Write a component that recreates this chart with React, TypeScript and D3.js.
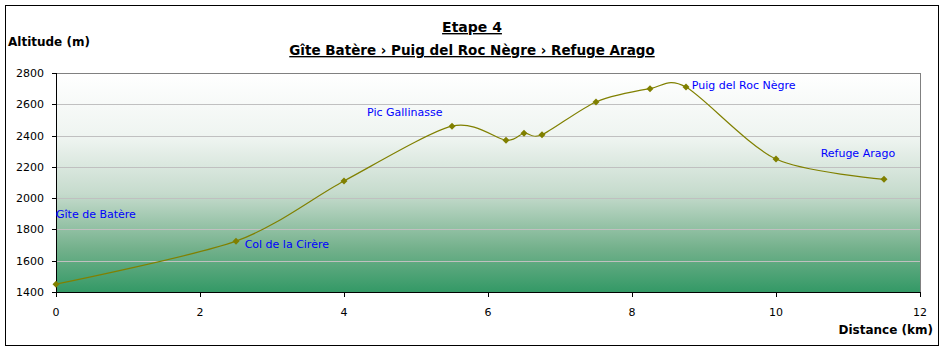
import React from "react";
import * as d3 from "d3";

const distances = [0, 2.5, 4, 5.5, 6.25, 6.5, 6.75, 7.5, 8.25, 8.75, 10, 11.5];
const altitudes = [1450, 1725, 2110, 2460, 2370, 2415, 2405, 2615, 2700, 2710, 2250, 2120];
const yTicks = [1400, 1600, 1800, 2000, 2200, 2400, 2600, 2800];
const xTicks = [0, 2, 4, 6, 8, 10, 12];
const placeNames = ["Gîte de Batère", "Col de la Cirère", "Pic Gallinasse", "Puig del Roc Nègre", "Refuge Arago"];
const placeDist = [0, 2.62, 4.32, 8.83, 10.62];
const placeAlt = [1870, 1680, 2525, 2700, 2260];
const title1 = "Etape 4";
const title2 = "Gîte Batère › Puig del Roc Nègre › Refuge Arago";

const W = 945, H = 352;
const L = 56, R = 920, T = 73, B = 292;
const FONT = "'Comic Sans MS', 'DejaVu Sans', sans-serif";

export default function App() {
  const x = d3.scaleLinear().domain([0, 12]).range([L, R]);
  const y = d3.scaleLinear().domain([1400, 2800]).range([B, T]);
  const pts: [number, number][] = distances.map((d, i) => [d, altitudes[i]]);
  const line = d3
    .line<[number, number]>()
    .x((d) => x(d[0]))
    .y((d) => y(d[1]))
    .curve(d3.curveCardinal.tension(0.15));
  return (
    <svg width={W} height={H} style={{ position: "absolute", left: 0, top: 0 }}>
      <defs>
        <linearGradient id="bg" x1="0" y1="0" x2="0" y2="1">
          <stop offset="0" stopColor="#ffffff" />
          <stop offset="0.3" stopColor="#eef4f0" />
          <stop offset="0.55" stopColor="#c6dbcd" />
          <stop offset="0.8" stopColor="#74b18c" />
          <stop offset="1" stopColor="#339966" />
        </linearGradient>
      </defs>
      <rect x={0} y={0} width={W} height={H} fill="#fff" />
      <rect x={5.5} y={5.5} width={933} height={340} fill="#fff" stroke="#000" strokeWidth={1} />
      <rect x={L} y={T} width={R - L} height={B - T} fill="url(#bg)" />
      {yTicks.map((t) => (
        <line key={t} x1={L} x2={R} y1={Math.round(y(t)) + 0.5} y2={Math.round(y(t)) + 0.5} stroke="#c0c0c0" strokeWidth={1} />
      ))}
      <line x1={L} x2={R} y1={T + 0.5} y2={T + 0.5} stroke="#808080" />
      <line x1={R + 0.5} x2={R + 0.5} y1={T} y2={B} stroke="#808080" />
      <line x1={L + 0.5} x2={L + 0.5} y1={T} y2={B + 1} stroke="#000" />
      <line x1={L} x2={R + 1} y1={B + 0.5} y2={B + 0.5} stroke="#000" />
      {yTicks.map((t) => (
        <g key={"yt" + t}>
          <line x1={L - 4} x2={L} y1={Math.round(y(t)) + 0.5} y2={Math.round(y(t)) + 0.5} stroke="#000" />
          <text x={L - 12} y={y(t) + 4} textAnchor="end" fontSize={11} fontFamily="'DejaVu Sans', sans-serif" fill="#000">
            {t}
          </text>
        </g>
      ))}
      {xTicks.map((t) => (
        <g key={"xt" + t}>
          <line x1={Math.round(x(t)) + 0.5} x2={Math.round(x(t)) + 0.5} y1={B} y2={B + 5} stroke="#000" />
          <text x={x(t)} y={B + 24} textAnchor="middle" fontSize={11} fontFamily="'DejaVu Sans', sans-serif" fill="#000">
            {t}
          </text>
        </g>
      ))}
      <path d={line(pts) || ""} fill="none" stroke="#808000" strokeWidth={1.2} />
      {pts.map((p, i) => {
        const cx = x(p[0]), cy = y(p[1]);
        return (
          <path key={i} d={`M${cx},${cy - 3.5}L${cx + 3.5},${cy}L${cx},${cy + 3.5}L${cx - 3.5},${cy}Z`} fill="#808000" />
        );
      })}
      {placeNames.map((n, i) => (
        <text key={n} x={x(placeDist[i])} y={y(placeAlt[i])} fontSize={11} fontFamily={FONT} fill="#0000ff">
          {n}
        </text>
      ))}
      <text x={472} y={32} textAnchor="middle" fontSize={14} fontWeight="bold" fontFamily={FONT} textDecoration="underline" fill="#000">
        {title1}
      </text>
      <text x={472} y={55} textAnchor="middle" fontSize={13.5} fontWeight="bold" fontFamily={FONT} textDecoration="underline" fill="#000">
        {title2}
      </text>
      <text x={8} y={46} fontSize={12} fontWeight="bold" fontFamily={FONT} fill="#000">
        Altitude (m)
      </text>
      <text x={933} y={334} textAnchor="end" fontSize={12} fontWeight="bold" fontFamily={FONT} fill="#000">
        Distance (km)
      </text>
    </svg>
  );
}
